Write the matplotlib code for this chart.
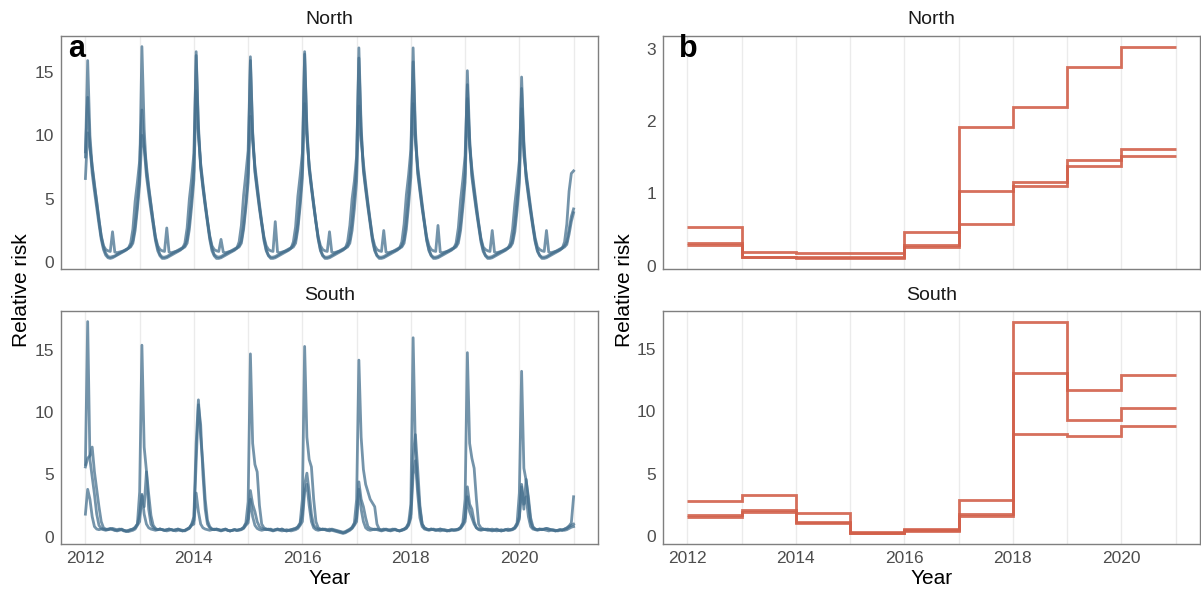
import numpy as np
import matplotlib
matplotlib.use("Agg")
import matplotlib.pyplot as plt

plt.rcParams['font.family'] = ['Liberation Sans', 'DejaVu Sans']

# ---- data -------------------------------------------------------------
# panel a: half-monthly relative risk, 24 values per year (2012..2020) + value at 2021-01-01
north_a = [
    8.3, 15.9, 10.0, 7.5, 6.0, 4.8, 3.4, 2.0, 1.2, 0.7, 0.45, 0.4, 0.45, 0.5, 0.6, 0.7, 0.8, 0.9, 1.0, 1.1, 1.3, 1.7, 2.9, 4.6,
    6.8, 17.0, 10.5, 7.2, 5.8, 4.5, 3.2, 1.9, 1.1, 0.6, 0.4, 0.4, 0.45, 0.55, 0.65, 0.75, 0.85, 0.95, 1.05, 1.15, 1.3, 1.8, 3.1, 5.0,
    7.2, 16.6, 10.8, 7.6, 6.0, 4.6, 3.3, 2.0, 1.1, 0.6, 0.45, 0.4, 0.45, 0.55, 0.65, 0.75, 0.85, 0.95, 1.05, 1.15, 1.3, 1.7, 2.9, 4.7,
    7.0, 16.2, 10.3, 7.3, 5.8, 4.4, 3.1, 1.9, 1.0, 0.55, 0.4, 0.4, 0.45, 0.55, 0.65, 0.75, 0.85, 0.95, 1.05, 1.15, 1.35, 1.8, 3.0, 4.9,
    7.4, 16.6, 10.6, 7.5, 6.0, 4.6, 3.2, 1.9, 1.0, 0.55, 0.4, 0.4, 0.45, 0.55, 0.65, 0.75, 0.85, 0.95, 1.05, 1.15, 1.3, 1.8, 3.1, 5.1,
    7.6, 16.9, 10.7, 7.4, 5.9, 4.5, 3.2, 1.9, 1.0, 0.55, 0.4, 0.4, 0.45, 0.55, 0.65, 0.75, 0.85, 0.95, 1.05, 1.15, 1.3, 1.8, 3.2, 5.2,
    7.8, 16.9, 10.5, 7.3, 5.8, 4.4, 3.1, 1.8, 1.0, 0.55, 0.4, 0.4, 0.45, 0.55, 0.65, 0.75, 0.85, 0.95, 1.05, 1.15, 1.3, 1.8, 3.0, 4.8,
    7.0, 15.1, 9.8, 7.0, 5.6, 4.2, 3.0, 1.8, 1.0, 0.55, 0.4, 0.4, 0.45, 0.55, 0.65, 0.75, 0.85, 0.95, 1.05, 1.15, 1.3, 1.7, 2.9, 4.7,
    6.9, 14.6, 9.5, 6.8, 5.4, 4.1, 2.9, 1.7, 0.95, 0.55, 0.4, 0.4, 0.45, 0.55, 0.65, 0.75, 0.85, 0.95, 1.05, 1.15, 1.3, 1.6, 2.6, 3.6,
    4.2,
]
north_b = [
    8.7, 13.0, 9.2, 7.0, 5.6, 4.3, 3.0, 1.8, 1.0, 0.55, 0.35, 0.3, 0.35, 0.45, 0.55, 0.65, 0.75, 0.85, 0.95, 1.1, 1.5, 2.6, 4.8, 6.3,
    8.0, 12.0, 9.0, 6.8, 5.4, 4.1, 2.9, 1.7, 0.9, 0.5, 0.3, 0.3, 0.35, 0.45, 0.55, 0.65, 0.75, 0.85, 0.95, 1.1, 1.5, 2.7, 5.0, 6.6,
    8.6, 16.3, 10.4, 7.4, 5.8, 4.4, 3.1, 1.8, 0.9, 0.5, 0.3, 0.3, 0.35, 0.45, 0.55, 0.65, 0.75, 0.85, 0.95, 1.1, 1.6, 2.9, 5.3, 7.0,
    8.8, 15.9, 10.1, 7.1, 5.6, 4.2, 3.0, 1.7, 0.9, 0.5, 0.3, 0.3, 0.35, 0.45, 0.55, 0.65, 0.75, 0.85, 0.95, 1.1, 1.6, 2.8, 5.2, 6.8,
    8.6, 16.4, 10.4, 7.3, 5.8, 4.4, 3.1, 1.8, 0.9, 0.5, 0.3, 0.3, 0.35, 0.45, 0.55, 0.65, 0.75, 0.85, 0.95, 1.1, 1.6, 2.9, 5.0, 6.4,
    8.4, 16.1, 10.3, 7.2, 5.7, 4.3, 3.0, 1.7, 0.9, 0.5, 0.3, 0.3, 0.35, 0.45, 0.55, 0.65, 0.75, 0.85, 0.95, 1.1, 1.6, 3.0, 5.3, 6.9,
    8.9, 15.8, 10.0, 7.0, 5.6, 4.2, 3.0, 1.7, 0.9, 0.5, 0.3, 0.3, 0.35, 0.45, 0.55, 0.65, 0.75, 0.85, 0.95, 1.1, 1.5, 2.7, 4.9, 6.5,
    8.4, 14.0, 9.3, 6.7, 5.3, 4.0, 2.8, 1.6, 0.85, 0.5, 0.3, 0.3, 0.35, 0.45, 0.55, 0.65, 0.75, 0.85, 0.95, 1.1, 1.5, 2.6, 4.6, 6.2,
    8.0, 13.7, 9.1, 6.6, 5.2, 3.9, 2.7, 1.6, 0.85, 0.5, 0.3, 0.3, 0.35, 0.45, 0.55, 0.65, 0.75, 0.85, 0.95, 1.1, 1.6, 3.0, 5.6, 7.0,
    7.2,
]
north_c = [
    6.6, 10.2, 9.0, 7.6, 6.2, 4.7, 3.3, 2.1, 1.3, 1.0, 0.9, 0.85, 2.4, 0.8, 0.75, 0.8, 0.85, 0.9, 1.0, 1.1, 1.2, 1.5, 2.5, 4.2,
    6.2, 10.0, 9.1, 7.6, 6.0, 4.6, 3.2, 2.0, 1.3, 1.0, 0.9, 0.85, 2.7, 0.8, 0.75, 0.8, 0.85, 0.9, 1.0, 1.1, 1.2, 1.5, 2.6, 4.4,
    6.5, 13.5, 9.9, 7.8, 6.2, 4.7, 3.3, 2.1, 1.3, 1.0, 0.9, 0.85, 1.8, 0.8, 0.75, 0.8, 0.85, 0.9, 1.0, 1.1, 1.2, 1.5, 2.6, 4.3,
    6.3, 11.5, 9.5, 7.6, 6.1, 4.6, 3.2, 2.0, 1.3, 1.0, 0.9, 0.85, 3.2, 0.8, 0.75, 0.8, 0.85, 0.9, 1.0, 1.1, 1.2, 1.5, 2.6, 4.4,
    6.6, 12.5, 9.7, 7.7, 6.1, 4.6, 3.2, 2.0, 1.3, 1.0, 0.9, 0.85, 2.4, 0.8, 0.75, 0.8, 0.85, 0.9, 1.0, 1.1, 1.2, 1.5, 2.5, 4.2,
    6.4, 12.3, 9.6, 7.8, 6.2, 4.7, 3.3, 2.0, 1.3, 1.0, 0.9, 0.85, 2.5, 0.8, 0.75, 0.8, 0.85, 0.9, 1.0, 1.1, 1.2, 1.5, 2.6, 4.5,
    6.7, 12.5, 9.5, 7.6, 6.1, 4.6, 3.2, 2.0, 1.3, 1.0, 0.9, 0.85, 2.9, 0.8, 0.75, 0.8, 0.85, 0.9, 1.0, 1.1, 1.2, 1.5, 2.5, 4.3,
    6.3, 12.9, 9.1, 7.4, 5.9, 4.5, 3.1, 1.9, 1.2, 1.0, 0.9, 0.85, 2.5, 0.8, 0.75, 0.8, 0.85, 0.9, 1.0, 1.1, 1.2, 1.5, 2.4, 4.1,
    6.2, 12.1, 8.4, 7.0, 5.7, 4.3, 3.0, 1.9, 1.2, 1.0, 0.9, 0.85, 2.5, 0.8, 0.75, 0.8, 0.85, 0.9, 1.0, 1.1, 1.2, 1.4, 2.2, 3.2,
    3.9,
]
south_a = [
    5.8, 17.3, 6.2, 4.8, 3.4, 1.8, 0.9, 0.65, 0.6, 0.55, 0.6, 0.65, 0.6, 0.5, 0.55, 0.6, 0.55, 0.45, 0.4, 0.45, 0.55, 0.6, 0.7, 1.0,
    3.6, 15.4, 7.2, 5.3, 3.4, 1.7, 0.9, 0.65, 0.55, 0.6, 0.55, 0.5, 0.55, 0.6, 0.55, 0.5, 0.55, 0.6, 0.5, 0.45, 0.5, 0.6, 0.7, 1.0,
    1.6, 7.5, 11.0, 8.0, 5.8, 3.0, 1.3, 0.8, 0.6, 0.55, 0.6, 0.55, 0.5, 0.55, 0.6, 0.5, 0.45, 0.5, 0.55, 0.5, 0.55, 0.6, 0.75, 1.1,
    2.8, 14.7, 7.5, 5.8, 5.2, 2.5, 1.0, 0.7, 0.6, 0.55, 0.6, 0.5, 0.55, 0.6, 0.55, 0.6, 0.5, 0.45, 0.5, 0.55, 0.6, 0.65, 0.8, 1.1,
    3.0, 15.3, 8.0, 6.2, 5.6, 3.0, 1.2, 0.7, 0.6, 0.55, 0.6, 0.55, 0.5, 0.6, 0.55, 0.5, 0.45, 0.4, 0.35, 0.4, 0.5, 0.6, 0.75, 1.1,
    3.0, 14.2, 8.0, 5.4, 4.2, 3.6, 3.0, 2.7, 2.4, 1.0, 0.6, 0.55, 0.6, 0.55, 0.5, 0.55, 0.6, 0.55, 0.5, 0.45, 0.55, 0.6, 0.75, 1.1,
    2.6, 16.0, 7.0, 4.2, 2.2, 1.0, 0.7, 0.6, 0.55, 0.6, 0.55, 0.5, 0.55, 0.6, 0.55, 0.5, 0.45, 0.5, 0.55, 0.5, 0.55, 0.6, 0.75, 1.1,
    3.0, 14.8, 7.5, 6.3, 5.5, 3.0, 1.0, 0.7, 0.6, 0.55, 0.6, 0.55, 0.5, 0.55, 0.6, 0.5, 0.45, 0.5, 0.55, 0.5, 0.55, 0.6, 0.75, 1.1,
    3.5, 13.3, 5.5, 4.5, 3.2, 1.5, 0.8, 0.6, 0.55, 0.6, 0.55, 0.6, 0.65, 0.6, 0.55, 0.5, 0.45, 0.5, 0.55, 0.5, 0.6, 0.7, 0.85, 1.1,
    3.2,
]
south_b = [
    5.6, 6.3, 6.5, 7.2, 5.2, 3.8, 2.4, 1.2, 0.7, 0.6, 0.55, 0.6, 0.65, 0.6, 0.5, 0.55, 0.6, 0.5, 0.45, 0.5, 0.55, 0.6, 0.75, 1.0,
    1.8, 3.3, 2.4, 5.2, 2.2, 1.0, 0.7, 0.6, 0.55, 0.6, 0.55, 0.5, 0.55, 0.6, 0.55, 0.5, 0.55, 0.6, 0.5, 0.45, 0.5, 0.6, 0.7, 0.95,
    1.3, 6.0, 10.6, 9.0, 5.0, 2.2, 1.0, 0.7, 0.6, 0.55, 0.6, 0.55, 0.5, 0.55, 0.6, 0.5, 0.45, 0.5, 0.55, 0.5, 0.55, 0.6, 0.7, 1.0,
    1.4, 3.7, 2.6, 2.0, 1.2, 0.8, 0.65, 0.6, 0.55, 0.6, 0.55, 0.5, 0.55, 0.6, 0.55, 0.6, 0.5, 0.45, 0.5, 0.55, 0.6, 0.65, 0.75, 1.0,
    1.8, 4.2, 5.1, 3.6, 1.8, 0.9, 0.7, 0.6, 0.55, 0.6, 0.55, 0.5, 0.6, 0.55, 0.5, 0.45, 0.4, 0.35, 0.3, 0.35, 0.45, 0.55, 0.7, 1.0,
    1.5, 4.4, 3.0, 2.4, 1.5, 0.8, 0.65, 0.6, 0.55, 0.6, 0.55, 0.5, 0.55, 0.6, 0.55, 0.5, 0.55, 0.6, 0.5, 0.45, 0.5, 0.6, 0.7, 1.0,
    1.8, 6.5, 8.2, 5.5, 2.5, 1.0, 0.7, 0.6, 0.55, 0.6, 0.55, 0.5, 0.55, 0.6, 0.55, 0.5, 0.45, 0.5, 0.55, 0.5, 0.55, 0.6, 0.7, 1.0,
    1.5, 4.0, 2.6, 2.2, 1.2, 0.7, 0.6, 0.55, 0.6, 0.55, 0.5, 0.55, 0.6, 0.5, 0.45, 0.5, 0.55, 0.5, 0.55, 0.6, 0.55, 0.6, 0.7, 1.0,
    1.6, 4.0, 2.2, 4.6, 2.8, 1.2, 0.7, 0.6, 0.55, 0.6, 0.55, 0.6, 0.65, 0.6, 0.55, 0.5, 0.45, 0.5, 0.55, 0.5, 0.6, 0.65, 0.8, 0.9,
    1.0,
]
south_c = [
    1.8, 3.8, 3.0, 1.6, 0.8, 0.6, 0.55, 0.6, 0.55, 0.5, 0.55, 0.6, 0.55, 0.5, 0.45, 0.5, 0.55, 0.5, 0.45, 0.4, 0.45, 0.5, 0.6, 0.9,
    1.2, 3.4, 1.8, 1.0, 0.7, 0.6, 0.55, 0.5, 0.55, 0.6, 0.55, 0.5, 0.45, 0.5, 0.55, 0.5, 0.45, 0.5, 0.55, 0.5, 0.45, 0.55, 0.65, 0.9,
    1.0, 3.5, 2.0, 1.0, 0.7, 0.6, 0.55, 0.5, 0.55, 0.6, 0.55, 0.5, 0.45, 0.5, 0.55, 0.5, 0.45, 0.5, 0.55, 0.5, 0.5, 0.55, 0.65, 0.9,
    1.1, 3.0, 1.6, 0.9, 0.65, 0.55, 0.5, 0.55, 0.6, 0.55, 0.5, 0.45, 0.5, 0.55, 0.5, 0.45, 0.5, 0.55, 0.5, 0.45, 0.5, 0.55, 0.65, 0.9,
    1.2, 3.6, 4.2, 2.5, 1.2, 0.7, 0.55, 0.5, 0.55, 0.6, 0.55, 0.5, 0.45, 0.5, 0.45, 0.4, 0.35, 0.3, 0.25, 0.3, 0.4, 0.5, 0.65, 0.9,
    1.2, 3.8, 2.2, 1.2, 0.7, 0.55, 0.5, 0.55, 0.6, 0.55, 0.5, 0.45, 0.5, 0.55, 0.5, 0.45, 0.5, 0.55, 0.5, 0.45, 0.5, 0.55, 0.65, 0.9,
    1.5, 5.0, 6.1, 3.5, 1.5, 0.8, 0.6, 0.55, 0.5, 0.55, 0.6, 0.55, 0.5, 0.45, 0.5, 0.55, 0.5, 0.45, 0.5, 0.55, 0.5, 0.55, 0.65, 0.9,
    1.2, 3.2, 2.0, 1.5, 1.0, 0.7, 0.55, 0.5, 0.55, 0.6, 0.55, 0.5, 0.45, 0.5, 0.55, 0.5, 0.45, 0.5, 0.55, 0.5, 0.5, 0.55, 0.65, 0.9,
    1.4, 4.2, 2.6, 3.2, 1.6, 0.8, 0.6, 0.55, 0.5, 0.55, 0.6, 0.55, 0.5, 0.45, 0.5, 0.55, 0.5, 0.45, 0.5, 0.55, 0.5, 0.55, 0.65, 0.75,
    0.8,
]

# panel b: yearly relative risk (one value per year 2012..2020)
years = [2012, 2013, 2014, 2015, 2016, 2017, 2018, 2019, 2020]
north_yearly = [
    [0.54, 0.19, 0.175, 0.175, 0.47, 1.92, 2.19, 2.75, 3.03],
    [0.32, 0.115, 0.115, 0.115, 0.285, 1.03, 1.16, 1.46, 1.62],
    [0.29, 0.115, 0.10, 0.10, 0.26, 0.58, 1.10, 1.38, 1.52],
]
south_yearly = [
    [2.78, 3.28, 1.81, 0.35, 0.59, 2.88, 17.2, 11.74, 12.92],
    [1.71, 2.08, 1.12, 0.27, 0.48, 1.76, 13.08, 9.34, 10.3],
    [1.55, 1.92, 1.07, 0.21, 0.37, 1.60, 8.19, 8.0, 8.83],
]

regions = ["North", "South"]

# ---- figure -------------------------------------------------------------
W, H = 1201, 590
fig = plt.figure(figsize=(W / 100, H / 100), dpi=100)


def px_axes(x0, y0, x1, y1):
    return fig.add_axes([x0 / W, 1 - y1 / H, (x1 - x0) / W, (y1 - y0) / H])


blue = '#46708E'
red = '#D2604A'
grey_txt = '#4D4D4D'

t = 2012 + np.arange(len(north_a)) / 24.0
edges = years + [years[-1] + 1]

cols = [(61, 598), (663, 1200)]
rows = [(36, 269), (311, 544)]

axes = {}
for ci, (x0, x1) in enumerate(cols):
    for ri, (y0, y1) in enumerate(rows):
        ax = px_axes(x0, y0, x1, y1)
        axes[(ci, ri)] = ax
        ax.set_xlim(2011.55, 2021.45)
        ax.set_xticks(range(2012, 2021, 2))
        ax.set_xticks(range(2013, 2022, 2), minor=True)
        ax.grid(axis='x', which='both', color='#EBEBEB', lw=1.0)
        ax.set_axisbelow(True)
        ax.tick_params(which='both', length=0, labelsize=12.5, colors=grey_txt, pad=5)
        for s in ax.spines.values():
            s.set_color('#7F7F7F')
            s.set_linewidth(1.0)
        if ri == 0:
            ax.set_xticklabels([])
        fig.text((x0 + x1) / 2 / W, 1 - (y0 - 16) / H, regions[ri],
                 ha='center', va='center', fontsize=14, color='#1A1A1A')

# panel a
for ri, series in enumerate([(north_a, north_b, north_c), (south_a, south_b, south_c)]):
    ax = axes[(0, ri)]
    for s in series:
        ax.plot(t, s, color=blue, lw=2.0, alpha=0.75, solid_joinstyle='round')
    ax.margins(x=0.05, y=0.05)
    ax.set_xlim(2011.55, 2021.45)
    ax.set_yticks([0, 5, 10, 15])

# panel b
for ri, series in enumerate([north_yearly, south_yearly]):
    ax = axes[(1, ri)]
    for s in series:
        ax.stairs(s, edges, baseline=None, color=red, lw=2.0, alpha=0.9)
    ax.margins(x=0.05, y=0.05)
    ax.set_xlim(2011.55, 2021.45)
    ax.set_yticks([0, 1, 2, 3] if ri == 0 else [0, 5, 10, 15])

for x0, x1 in cols:
    fig.text((x0 + x1) / 2 / W, 1 - 578 / H, 'Year', ha='center', va='center', fontsize=15, color='black')
fig.text(22 / W, 1 - 290 / H, 'Relative risk', rotation=90, ha='center', va='center', fontsize=15)
fig.text(625 / W, 1 - 290 / H, 'Relative risk', rotation=90, ha='center', va='center', fontsize=15)

fig.text(77 / W, 1 - 49 / H, 'a', ha='center', va='center', fontsize=22, fontweight='bold')
fig.text(688 / W, 1 - 49 / H, 'b', ha='center', va='center', fontsize=22, fontweight='bold')

fig.savefig('out.png', dpi=100)
